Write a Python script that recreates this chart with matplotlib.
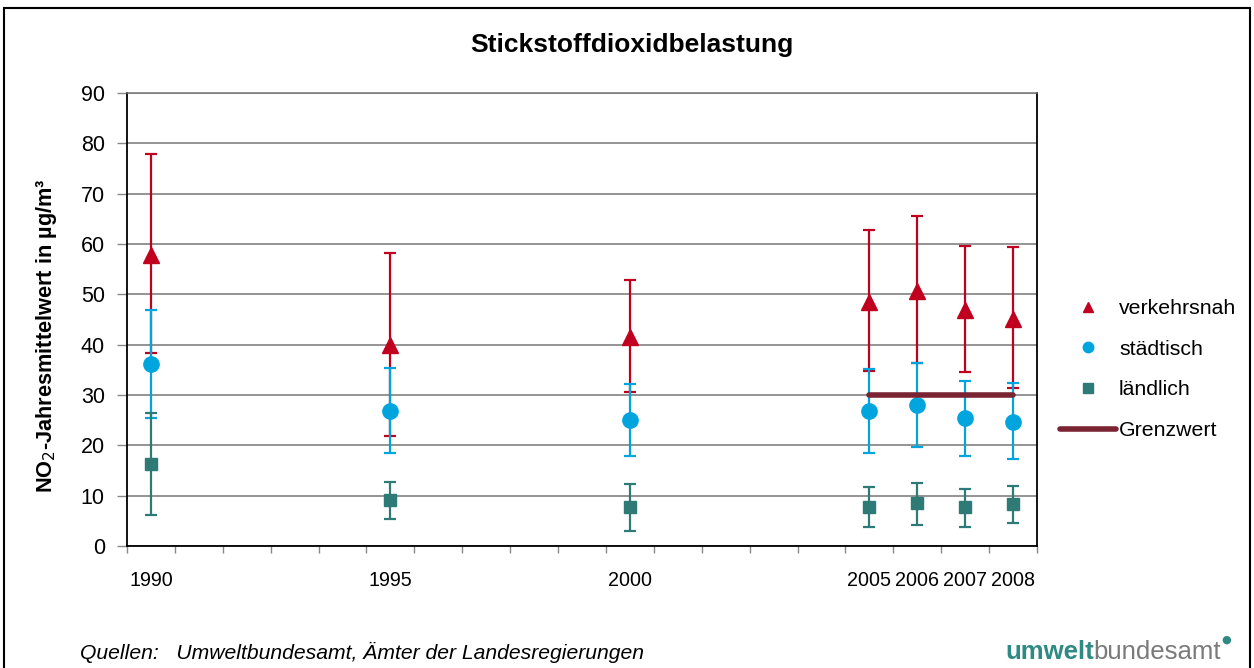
import matplotlib.pyplot as plt
import numpy as np
from matplotlib.patches import Rectangle

plt.rcParams['font.family'] = ['Liberation Sans', 'DejaVu Sans']

# data
all_years = list(range(1990, 2009))
years = [1990, 1995, 2000, 2005, 2006, 2007, 2008]

verkehr_mean = [57.8, 39.9, 41.5, 48.5, 50.7, 46.9, 45.1]
verkehr_lo = [38.4, 21.9, 30.5, 34.7, 36.4, 34.5, 31.3]
verkehr_hi = [77.8, 58.3, 52.9, 62.7, 65.5, 59.7, 59.5]

staedt_mean = [36.1, 26.9, 25.0, 26.9, 28.0, 25.4, 24.7]
staedt_lo = [25.4, 18.4, 17.9, 18.5, 19.7, 17.9, 17.3]
staedt_hi = [46.9, 35.4, 32.2, 35.2, 36.4, 32.7, 32.3]

laend_mean = [16.3, 9.1, 7.7, 7.8, 8.5, 7.7, 8.3]
laend_lo = [6.2, 5.3, 3.0, 3.7, 4.2, 3.8, 4.5]
laend_hi = [26.4, 12.8, 12.3, 11.8, 12.6, 11.3, 11.9]

grenz_years = [2005, 2006, 2007, 2008]
grenz_value = [30, 30, 30, 30]

red = '#C0001E'
cyan = '#00A5DE'
teal = '#2E7A77'
maroon = '#7A2333'

W, H = 1254, 668
fig = plt.figure(figsize=(W / 100, H / 100), dpi=100)
ax = fig.add_axes([127 / W, 1 - 546 / H, (1037 - 127) / W, (546 - 93) / H])

def pos(ys):
    return [all_years.index(y) for y in ys]

series = [
    (verkehr_mean, verkehr_lo, verkehr_hi, red, '^', 11, 'verkehrsnah'),
    (staedt_mean, staedt_lo, staedt_hi, cyan, 'o', 11, 'städtisch'),
    (laend_mean, laend_lo, laend_hi, teal, 's', 9, 'ländlich'),
]
handles = []
for mean, lo, hi, col, mk, ms, lab in series:
    m = np.array(mean)
    yerr = [m - np.array(lo), np.array(hi) - m]
    ax.errorbar(pos(years), m, yerr=yerr, fmt=mk, color=col, ms=ms,
                elinewidth=1.6, capsize=4.5, capthick=1.6, zorder=3)
    h, = ax.plot([], [], mk, color=col, ms=7.5, label=lab)
    handles.append(h)

gl, = ax.plot(pos(grenz_years), grenz_value, color=maroon, lw=4,
              solid_capstyle='round', zorder=4, label='Grenzwert')
handles.append(gl)

ax.set_xlim(-0.5, 18.5)
ax.set_ylim(0, 90)
ax.set_yticks(range(0, 91, 10))
ax.set_xticks(pos(years))
ax.set_xticklabels([str(y) for y in years])
ax.set_xticks(np.arange(-0.5, 19, 1), minor=True)
ax.tick_params(axis='x', which='major', length=0, pad=18, labelsize=14.2)
ax.tick_params(axis='x', which='minor', length=5, color='#888888', width=1)
ax.tick_params(axis='y', length=7, pad=9, labelsize=15.5, color='#888888', width=1)
ax.grid(axis='y', color='#777777', lw=1.1)
ax.set_axisbelow(True)
for s in ['left', 'bottom', 'right']:
    ax.spines[s].set_color('black')
    ax.spines[s].set_linewidth(1.3)
ax.spines['top'].set_color('#777777')
ax.spines['top'].set_linewidth(1.1)

ax.set_ylabel('NO$_2$-Jahresmittelwert in µg/m³', fontsize=15.7, fontweight='bold')
ax.yaxis.set_label_coords(-68 / 910, 0.465)

fig.text(632 / W, 1 - 45 / H, 'Stickstoffdioxidbelastung', ha='center', va='center',
         fontsize=19, fontweight='bold')

fig.legend(handles=handles, loc='upper left', bbox_to_anchor=(1041 / W, 1 - 280 / H),
           frameon=False, fontsize=15.3, handlelength=2.65, handletextpad=0.12,
           labelspacing=1.02)

fig.text(80 / W, 1 - 652 / H, 'Quellen:   Umweltbundesamt, Ämter der Landesregierungen',
         ha='left', va='center', fontsize=15.2, style='italic')

t1 = fig.text(1005 / W, 1 - 652 / H, 'umwelt', ha='left', va='center', fontsize=18.5,
              fontweight='bold', color='#2E8A82')
r = fig.canvas.get_renderer()
bb = t1.get_window_extent(r)
t2 = fig.text(bb.x1 / W, 1 - 652 / H, 'bundesamt', ha='left', va='center',
              fontsize=18.5, color='#7a7a7a')
bb2 = t2.get_window_extent(r)
fig.text(bb2.x1 / W, 1 - 640 / H, '●', ha='left', va='center', fontsize=8,
         color='#2E8A82', family='DejaVu Sans')

fig.patches.append(Rectangle((4 / W, -0.05), (1250 - 4) / W, 1 - 8 / H + 0.05,
                             transform=fig.transFigure, fill=False, ec='black', lw=1.5))

fig.savefig('out.png', dpi=100)
